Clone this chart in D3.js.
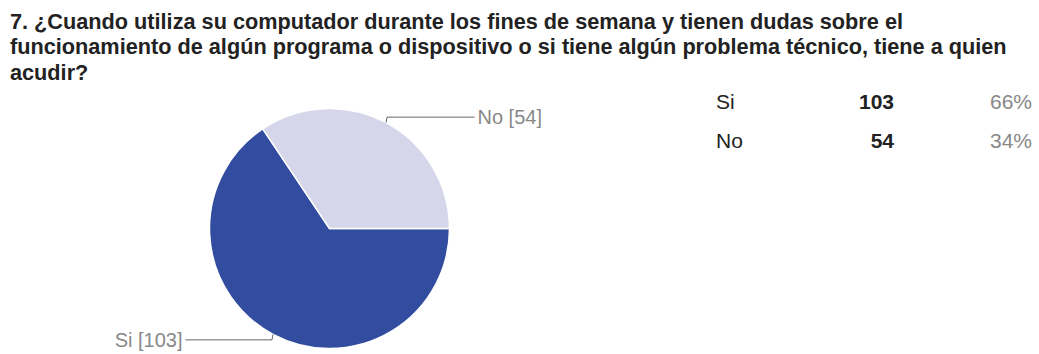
<!DOCTYPE html>
<html>
<head>
<meta charset="utf-8">
<script src="https://cdn.jsdelivr.net/npm/d3@7"></script>
<style>
  body { margin: 0; background: #fff; }
  svg { display: block; font-family: "Liberation Sans", Arial, sans-serif; }
</style>
</head>
<body>
<script>
// data
const titleLines = [
    "7. ¿Cuando utiliza su computador durante los fines de semana y tienen dudas sobre el",
    "funcionamiento de algún programa o dispositivo o si tiene algún problema técnico, tiene a quien",
    "acudir?"
];
const answers = ["Si", "No"];
const counts = [103, 54];
const colors = ["#324c9f", "#d5d6ea"];

const width = 1039, height = 354;
const total = d3.sum(counts);

const svg = d3.select("body").append("svg")
    .attr("width", width)
    .attr("height", height);

// title
svg.append("text")
    .attr("x", 10)
    .attr("y", 28.5)
    .style("font-size", "21.7px")
    .style("font-weight", "bold")
    .attr("fill", "#222")
    .selectAll("tspan")
    .data(titleLines)
    .join("tspan")
    .attr("x", 10)
    .attr("dy", (d, i) => i ? 25.5 : 0)
    .text(d => d);

// pie
const cx = 329.5, cy = 228.5, r = 120;
const pie = d3.pie().sort(null)
    .startAngle(Math.PI / 2)
    .endAngle(Math.PI / 2 + 2 * Math.PI);
const arcs = pie(counts);
const arc = d3.arc().innerRadius(0).outerRadius(r);

const g = svg.append("g").attr("transform", `translate(${cx},${cy})`);

g.selectAll("path")
    .data(arcs)
    .join("path")
    .attr("d", arc)
    .attr("fill", (d, i) => colors[i])
    .attr("stroke", "#fff")
    .attr("stroke-width", 1.5);

// leader lines + labels
arcs.forEach((d, i) => {
    let mid = (d.startAngle + d.endAngle) / 2;
    let px = r * Math.sin(mid), py = -r * Math.cos(mid);
    let right = px > 0;
    let ly = py < 0 ? py - 5.5 : py + 5.5;
    let ex = right ? 145 : -144;
    g.append("path")
        .attr("d", `M${px},${py} L${px + (right ? 1 : -1)},${ly} L${ex},${ly}`)
        .attr("fill", "none")
        .attr("stroke", "#666")
        .attr("stroke-width", 1);
    g.append("text")
        .attr("x", ex + (right ? 3 : -3))
        .attr("y", ly + 7)
        .attr("text-anchor", right ? "start" : "end")
        .style("font-size", "20px")
        .attr("fill", "#888")
        .text(`${answers[i]} [${counts[i]}]`);
});

// summary table
const rowY = d3.scaleBand().domain(answers).range([88, 167]);
const table = svg.append("g");
const rows = table.selectAll("g")
    .data(answers)
    .join("g")
    .attr("transform", d => `translate(0,${rowY(d) + 20.5})`);

rows.append("text")
    .attr("x", 716)
    .style("font-size", "21px")
    .attr("fill", "#222")
    .text(d => d);

rows.append("text")
    .attr("x", 894)
    .attr("text-anchor", "end")
    .style("font-size", "21px")
    .style("font-weight", "bold")
    .attr("fill", "#222")
    .text((d, i) => counts[i]);

rows.append("text")
    .attr("x", 1032)
    .attr("text-anchor", "end")
    .style("font-size", "21px")
    .attr("fill", "#888")
    .text((d, i) => d3.format(".0%")(counts[i] / total));
</script>
</body>
</html>
